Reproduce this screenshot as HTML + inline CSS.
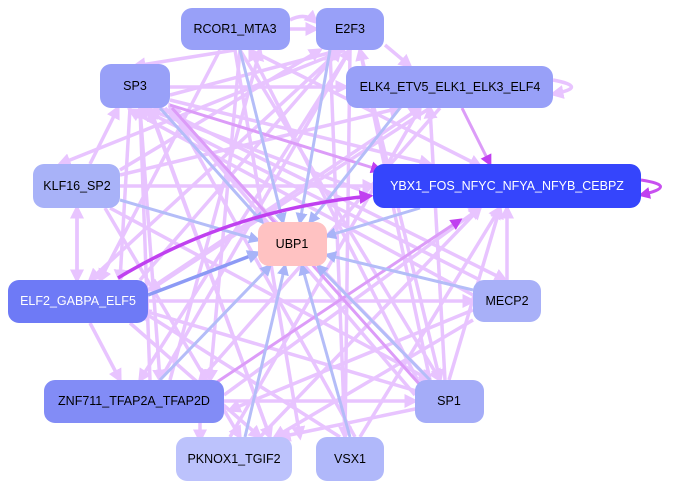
<!DOCTYPE html>
<html><head><meta charset="utf-8"><style>
body{margin:0;background:#fff}
svg{display:block}
text{font-family:"Liberation Sans",sans-serif;font-size:12.5px;text-anchor:middle;dominant-baseline:central}
</style></head><body>
<svg width="673" height="489" viewBox="0 0 673 489" xmlns="http://www.w3.org/2000/svg">
<defs>
<marker id="a" markerWidth="4" markerHeight="4" refX="3" refY="2" orient="auto"><path d="M0,0L4,2L0,4z" fill="#e8c4ff"/></marker>
<marker id="b" markerWidth="4" markerHeight="4" refX="3" refY="2" orient="auto"><path d="M0,0L4,2L0,4z" fill="#a8b4f8"/></marker>
<marker id="c" markerWidth="4" markerHeight="4" refX="3" refY="2" orient="auto"><path d="M0,0L4,2L0,4z" fill="#c040f0"/></marker>
</defs>
<g stroke="#e8c4ff" stroke-width="3.5" fill="none" marker-end="url(#a)">
<line x1="235" y1="50" x2="135" y2="66"/><line x1="250" y1="50" x2="480" y2="166"/><line x1="240" y1="50" x2="210" y2="380"/>
<line x1="235" y1="50" x2="300" y2="437"/><line x1="240" y1="50" x2="440" y2="380"/><line x1="220" y1="50" x2="100" y2="280"/>
<line x1="350" y1="50" x2="140" y2="380"/><line x1="340" y1="50" x2="90" y2="280"/><line x1="345" y1="50" x2="60" y2="164"/>
<line x1="350" y1="50" x2="345" y2="437"/><line x1="360" y1="50" x2="440" y2="380"/><line x1="385" y1="45" x2="410" y2="66"/>
<line x1="170" y1="95" x2="340" y2="50"/><line x1="170" y1="87" x2="346" y2="87"/><line x1="170" y1="100" x2="430" y2="164"/>
<line x1="140" y1="108" x2="160" y2="380"/><line x1="150" y1="108" x2="270" y2="437"/><line x1="165" y1="108" x2="430" y2="380"/>
<line x1="160" y1="108" x2="505" y2="280"/><line x1="130" y1="108" x2="120" y2="280"/>
<line x1="90" y1="164" x2="118" y2="108"/><line x1="120" y1="186" x2="373" y2="186"/><line x1="120" y1="175" x2="400" y2="108"/>
<line x1="110" y1="208" x2="430" y2="380"/><line x1="105" y1="208" x2="240" y2="437"/><line x1="120" y1="170" x2="320" y2="50"/>
<line x1="77" y1="208" x2="77" y2="280"/><line x1="77" y1="280" x2="77" y2="208"/>
<line x1="148" y1="301" x2="473" y2="301"/><line x1="148" y1="290" x2="420" y2="108"/><line x1="148" y1="312" x2="430" y2="395"/>
<line x1="90" y1="323" x2="120" y2="380"/><line x1="130" y1="323" x2="260" y2="437"/><line x1="140" y1="280" x2="340" y2="50"/>
<line x1="150" y1="380" x2="140" y2="108"/><line x1="160" y1="380" x2="350" y2="50"/><line x1="170" y1="380" x2="260" y2="50"/>
<line x1="224" y1="401" x2="415" y2="401"/><line x1="224" y1="395" x2="480" y2="208"/><line x1="200" y1="423" x2="200" y2="440"/>
<line x1="415" y1="395" x2="170" y2="108"/><line x1="420" y1="385" x2="250" y2="50"/><line x1="449" y1="380" x2="500" y2="208"/>
<line x1="420" y1="408" x2="280" y2="437"/><line x1="430" y1="380" x2="360" y2="50"/><line x1="445" y1="380" x2="430" y2="108"/>
<line x1="473" y1="310" x2="230" y2="410"/><line x1="473" y1="320" x2="275" y2="437"/><line x1="480" y1="280" x2="140" y2="108"/>
<line x1="507" y1="280" x2="507" y2="208"/><line x1="473" y1="295" x2="130" y2="110"/>
<line x1="260" y1="437" x2="480" y2="208"/><line x1="270" y1="437" x2="150" y2="110"/><line x1="360" y1="437" x2="500" y2="208"/>
<line x1="345" y1="437" x2="330" y2="50"/><line x1="355" y1="437" x2="170" y2="105"/><line x1="340" y1="437" x2="140" y2="310"/>
<line x1="230" y1="437" x2="420" y2="108"/><line x1="440" y1="108" x2="200" y2="380"/><line x1="430" y1="108" x2="150" y2="290"/>
<line x1="290" y1="29" x2="316" y2="29"/><line x1="360" y1="190" x2="150" y2="110"/>
<path d="M553 80 Q590 87 553 94"/><path d="M290 20 Q305 12 316 22"/>
</g>
<g stroke="#dc9cf8" stroke-width="3" fill="none" marker-end="url(#c)">
<line x1="462" y1="108" x2="490" y2="164"/><line x1="170" y1="105" x2="380" y2="170"/><line x1="175" y1="410" x2="460" y2="220"/>
<line x1="172" y1="108" x2="438" y2="405"/>
</g>
<g stroke="#b4bdf8" stroke-width="3" fill="none" marker-end="url(#b)">
<line x1="160" y1="108" x2="262" y2="222"/><line x1="240" y1="50" x2="283" y2="222"/><line x1="120" y1="200" x2="258" y2="240"/>
<line x1="330" y1="50" x2="300" y2="222"/><line x1="400" y1="108" x2="310" y2="222"/><line x1="420" y1="208" x2="327" y2="236"/>
<line x1="473" y1="290" x2="327" y2="255"/><line x1="430" y1="380" x2="318" y2="266"/><line x1="350" y1="437" x2="302" y2="266"/>
<line x1="245" y1="437" x2="285" y2="266"/><line x1="160" y1="380" x2="270" y2="266"/>
</g>
<line x1="148" y1="295" x2="258" y2="253" stroke="#8c9af5" stroke-width="3.5" marker-end="url(#b)"/>
<path d="M118 278 Q230 210 370 196" stroke="#c040f0" stroke-width="3.5" fill="none" marker-end="url(#c)"/>
<path d="M641 180 Q680 186 641 195" stroke="#c850f0" stroke-width="3" fill="none" marker-end="url(#c)"/>
<g stroke="none">
<rect x="181" y="8" width="109" height="42" rx="11" fill="#98a0f8"/>
<rect x="316" y="8" width="68" height="42" rx="11" fill="#98a0f8"/>
<rect x="100" y="64" width="70" height="44" rx="11" fill="#98a0f8"/>
<rect x="346" y="66" width="207" height="42" rx="11" fill="#98a0f8"/>
<rect x="373" y="164" width="268" height="44" rx="11" fill="#3545fc"/>
<rect x="33" y="164" width="87" height="44" rx="11" fill="#a8b2f8"/>
<rect x="258" y="222" width="69" height="44" rx="11" fill="#ffc2c2"/>
<rect x="8" y="280" width="140" height="43" rx="11" fill="#6e7af6"/>
<rect x="473" y="280" width="68" height="42" rx="11" fill="#a8b0f8"/>
<rect x="44" y="380" width="180" height="43" rx="11" fill="#828cf6"/>
<rect x="415" y="380" width="69" height="43" rx="11" fill="#a4acf8"/>
<rect x="176" y="437" width="116" height="44" rx="11" fill="#bcc2fc"/>
<rect x="316" y="437" width="68" height="44" rx="11" fill="#b0b8fa"/>
</g>
<text x="235" y="29">RCOR1_MTA3</text>
<text x="350" y="29">E2F3</text>
<text x="135" y="86">SP3</text>
<text x="450" y="87">ELK4_ETV5_ELK1_ELK3_ELF4</text>
<text x="507" y="186" fill="#fff">YBX1_FOS_NFYC_NFYA_NFYB_CEBPZ</text>
<text x="77" y="186">KLF16_SP2</text>
<text x="292" y="244">UBP1</text>
<text x="78" y="301" fill="#fff">ELF2_GABPA_ELF5</text>
<text x="507" y="301">MECP2</text>
<text x="134" y="401">ZNF711_TFAP2A_TFAP2D</text>
<text x="449" y="401">SP1</text>
<text x="234" y="459">PKNOX1_TGIF2</text>
<text x="350" y="459">VSX1</text>
</svg>
</body></html>
